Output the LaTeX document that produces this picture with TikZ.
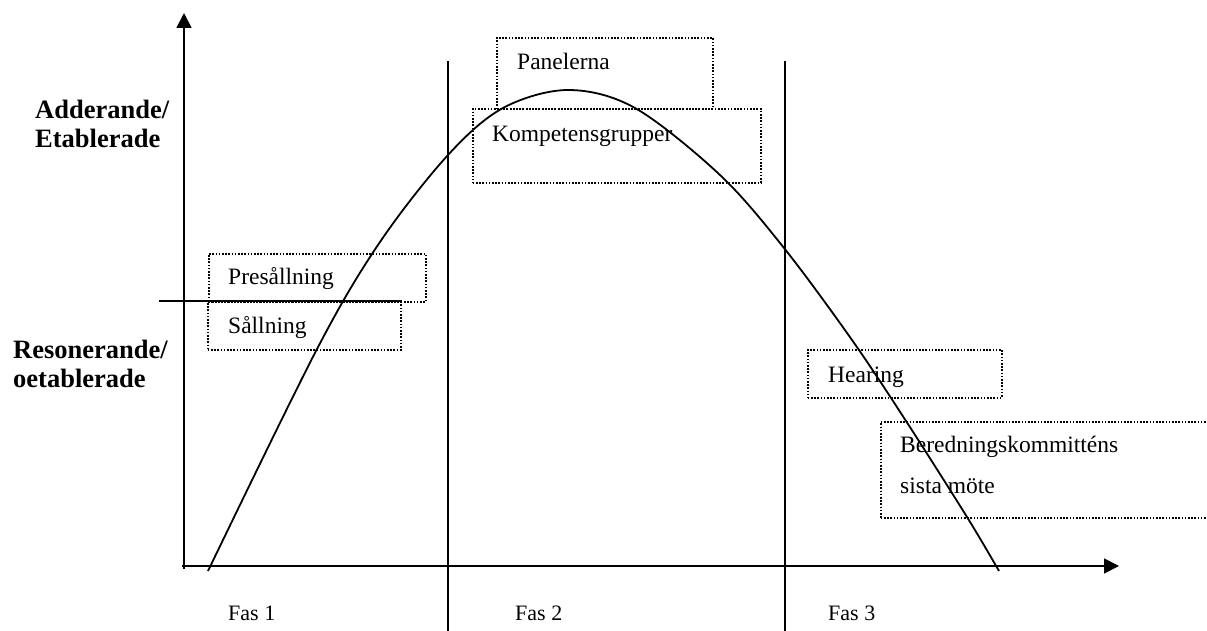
\documentclass[tikz,border=0pt]{standalone}
\usepackage{fontspec}
\setmainfont{Liberation Serif}
\usetikzlibrary{arrows.meta}
\begin{document}
\begin{tikzpicture}[x=1pt,y=-1pt,
  dotbox/.style={draw, line width=1.6pt, dash pattern=on 1.6pt off 1.6pt, inner sep=0, anchor=north west},
  lbl/.style={anchor=base west, inner sep=0, font=\fontsize{23.5}{27}\selectfont},
  fas/.style={anchor=base west, inner sep=0, font=\fontsize{22}{26}\selectfont},
  side/.style={anchor=base west, inner sep=0, font=\fontsize{26.5}{30}\selectfont\bfseries},
  axis/.style={line width=1.8pt, -{Triangle[length=15pt,width=15pt]}},
  phase/.style={line width=1.4pt},
  curve/.style={line width=1.8pt}]
\useasboundingbox (0,0) rectangle (1207,631);
% boxes
\node[dotbox, minimum width=217pt, minimum height=48pt] (presbox) at (208,253) {};
\node[dotbox, minimum width=193pt, minimum height=48pt] (salbox) at (207,301) {};
\node[dotbox, minimum width=216pt, minimum height=71pt] (panbox) at (496,37) {};
\node[dotbox, minimum width=288pt, minimum height=74pt] (kompbox) at (472,108) {};
\node[dotbox, minimum width=194pt, minimum height=48pt] (hearbox) at (807,349) {};
\node[dotbox, minimum width=340pt, minimum height=96pt] (berbox) at (880,421) {};
% texts
\node[lbl] (pres) at (228,284) {Presållning};
\node[lbl] (sal) at (228,333) {Sållning};
\node[lbl] (pan) at (517,70) {Panelerna};
\node[lbl] (komp) at (492,142) {Kompetensgrupper};
\node[lbl] (hear) at (828,382) {Hearing};
\node[lbl] (ber1) at (900,452) {Beredningskommitténs};
\node[lbl] (ber2) at (900,493) {sista möte};
\node[fas] (fas1) at (228,620) {Fas 1};
\node[fas] (fas2) at (515,620) {Fas 2};
\node[fas] (fas3) at (828,620) {Fas 3};
\node[side] (add) at (35,119) {Adderande/};
\node[side] (etab) at (35,148) {Etablerade};
\node[side] (reso) at (13,358) {Resonerande/};
\node[side] (oetab) at (13,387) {oetablerade};
% axes
\coordinate (ybot) at (184,569);
\coordinate (ytip) at (184,13);
\coordinate (xstart) at (182,566);
\coordinate (xtip) at (1119,566);
\draw[axis] (ybot) -- (ytip);
\draw[axis] (xstart) -- (xtip);
\coordinate (hl) at (159,301);
\coordinate (hr) at (402,301);
\draw[line width=1.8pt] (hl) -- (hr);
% phase lines
\coordinate (p1t) at (448,61);
\coordinate (p1b) at (448,640);
\coordinate (p2t) at (785,61);
\coordinate (p2b) at (785,640);
\draw[phase] (p1t) -- (p1b);
\draw[phase] (p2t) -- (p2b);
% curve
\draw[curve] plot[smooth, tension=0.55] coordinates {(208,571) (317,349) (380,242) (448,155) (503,108) (568,90) (635,108) (720,175) (784,248) (852,340) (906,421) (967,517) (999,571)};
\end{tikzpicture}
\end{document}
